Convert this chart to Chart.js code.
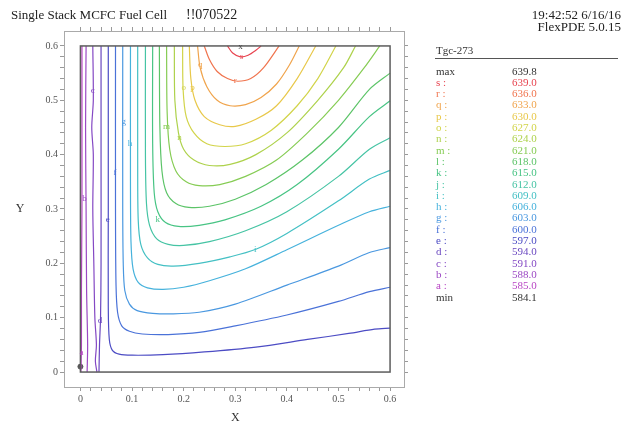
<!DOCTYPE html>
<html><head><meta charset="utf-8">
<script src="https://cdn.jsdelivr.net/npm/chart.js@4/dist/chart.umd.min.js"></script>
<style>html,body{margin:0;padding:0;background:#fff;}#wrap{width:637px;height:425px;}</style>
</head><body><div id="wrap"><canvas id="c" width="637" height="425"></canvas></div>
<script>
// ---------------- data ----------------
const titleText = 'Single Stack MCFC Fuel Cell';
const runId = '!!070522';
const stampText = '19:42:52 6/16/16';
const versionText = 'FlexPDE 5.0.15';
const varName = 'Tgc-273';
const fieldMax = 639.8;
const fieldMin = 584.1;
const maxLoc = [0.31, 0.598];
const minLoc = [0.0, 0.01];
const contourLetters = ['a','b','c','d','e','f','g','h','i','j','k','l','m','n','o','p','q','r','s'];
const contourValues = [585.0,588.0,591.0,594.0,597.0,600.0,603.0,606.0,609.0,612.0,615.0,618.0,621.0,624.0,627.0,630.0,633.0,636.0,639.0];
const tickLabels = ['0','0.1','0.2','0.3','0.4','0.5','0.6'];

const path_a = [[0.003,0.6],[0.003,0.45],[0.003,0.3],[0.002,0.15],[0.002,0.05],[0.001,0.0]];
const path_b = [[0.011,0.6],[0.01,0.45],[0.011,0.3],[0.012,0.15],[0.014,0.05],[0.013,0.0]];
const path_c = [[0.024,0.6],[0.025,0.5],[0.022,0.45],[0.025,0.4],[0.024,0.3],[0.026,0.2],[0.028,0.1],[0.031,0.05],[0.029,0.02],[0.032,0.0]];
const path_d = [[0.04,0.6],[0.04,0.4],[0.04,0.2],[0.039,0.1],[0.037,0.05],[0.036,0.0]];
const path_e = [[0.054,0.6],[0.054,0.3],[0.054,0.12],[0.056,0.06],[0.062,0.04],[0.075,0.033],[0.1,0.031],[0.16,0.032],[0.24,0.037],[0.34,0.046],[0.44,0.06],[0.52,0.071],[0.57,0.079],[0.6,0.081]];
const path_f = [[0.068,0.6],[0.068,0.3],[0.069,0.16],[0.072,0.11],[0.08,0.085],[0.095,0.075],[0.12,0.07],[0.17,0.069],[0.23,0.073],[0.3,0.085],[0.4,0.105],[0.5,0.13],[0.56,0.148],[0.6,0.156]];
const path_g = [[0.082,0.6],[0.082,0.3],[0.083,0.2],[0.086,0.15],[0.095,0.125],[0.11,0.113],[0.14,0.108],[0.18,0.107],[0.23,0.11],[0.3,0.125],[0.4,0.16],[0.5,0.195],[0.56,0.22],[0.6,0.229]];
const path_h = [[0.097,0.6],[0.097,0.35],[0.098,0.24],[0.102,0.19],[0.112,0.165],[0.13,0.155],[0.16,0.152],[0.2,0.156],[0.25,0.168],[0.32,0.19],[0.4,0.225],[0.5,0.27],[0.56,0.295],[0.6,0.305]];
const path_i = [[0.111,0.6],[0.111,0.38],[0.112,0.28],[0.117,0.235],[0.13,0.21],[0.15,0.198],[0.18,0.195],[0.23,0.2],[0.29,0.212],[0.34,0.226],[0.4,0.255],[0.5,0.315],[0.56,0.355],[0.6,0.371]];
const path_j = [[0.126,0.6],[0.126,0.4],[0.128,0.31],[0.134,0.27],[0.148,0.245],[0.17,0.235],[0.2,0.233],[0.25,0.24],[0.32,0.26],[0.4,0.295],[0.5,0.36],[0.56,0.41],[0.6,0.431]];
const path_k = [[0.14,0.6],[0.14,0.42],[0.143,0.33],[0.15,0.295],[0.165,0.275],[0.19,0.268],[0.23,0.27],[0.28,0.28],[0.35,0.305],[0.42,0.345],[0.5,0.41],[0.56,0.47],[0.6,0.499]];
const path_l = [[0.153,0.6],[0.154,0.45],[0.158,0.37],[0.167,0.33],[0.185,0.31],[0.21,0.303],[0.25,0.305],[0.3,0.318],[0.36,0.345],[0.43,0.39],[0.5,0.45],[0.56,0.52],[0.6,0.55]];
const path_m = [[0.167,0.6],[0.168,0.48],[0.173,0.41],[0.185,0.37],[0.205,0.35],[0.23,0.343],[0.27,0.345],[0.32,0.36],[0.38,0.39],[0.44,0.44],[0.5,0.5],[0.55,0.56],[0.58,0.6]];
const path_n = [[0.182,0.6],[0.183,0.5],[0.19,0.44],[0.2,0.41],[0.22,0.39],[0.25,0.38],[0.29,0.382],[0.34,0.4],[0.4,0.44],[0.46,0.5],[0.51,0.56],[0.533,0.6]];
const path_o = [[0.198,0.6],[0.199,0.52],[0.205,0.47],[0.22,0.44],[0.245,0.42],[0.28,0.415],[0.32,0.42],[0.37,0.445],[0.42,0.49],[0.46,0.54],[0.495,0.6]];
const path_p = [[0.211,0.6],[0.214,0.54],[0.222,0.5],[0.24,0.47],[0.27,0.455],[0.3,0.452],[0.34,0.465],[0.38,0.49],[0.42,0.54],[0.456,0.6]];
const path_q = [[0.227,0.6],[0.232,0.56],[0.245,0.525],[0.265,0.5],[0.29,0.49],[0.32,0.492],[0.35,0.505],[0.38,0.53],[0.405,0.565],[0.424,0.6]];
const path_r = [[0.24,0.6],[0.25,0.575],[0.265,0.553],[0.285,0.54],[0.305,0.535],[0.33,0.54],[0.355,0.56],[0.385,0.6]];
const path_s = [[0.285,0.6],[0.295,0.587],[0.31,0.58],[0.325,0.583],[0.34,0.592],[0.35,0.6]];
const contourPaths = [path_a,path_b,path_c,path_d,path_e,path_f,path_g,path_h,path_i,path_j,path_k,path_l,path_m,path_n,path_o,path_p,path_q,path_r,path_s];

// letters placed on the lines (data coordinates)
const lineLabels = [['s',0.312,0.58],['r',0.3,0.536],['q',0.232,0.565],['p',0.217,0.523],['o',0.2,0.523],
  ['n',0.192,0.431],['m',0.167,0.451],['g',0.084,0.461],['h',0.096,0.42],['f',0.067,0.367],['c',0.024,0.517],
  ['b',0.008,0.319],['e',0.053,0.281],['k',0.15,0.281],['i',0.339,0.226],['d',0.038,0.095],['a',0.002,0.035]];

// ---------------- styles ----------------
const levelColors = ['#b845c4','#9c48c4','#8448c4','#6a48c0','#4c4cc4','#4a72d8','#4a98e0','#46b2dc','#44c0c4','#46c4a4',
  '#48c484','#5cc468','#86cc54','#aed24c','#d2d44a','#e8c84a','#f0a44c','#f0744e','#e84450'];
const SERIF = '"Liberation Serif","DejaVu Serif",serif';

const minorTicks = [];
for (let i = 0; i <= 30; i++) minorTicks.push(+(i * 0.02).toFixed(2));

function setTicks(scale){ scale.ticks = minorTicks.map(v => ({value: v})); }
function tickLabel(v){
  const k = Math.round(v * 50);
  return (k % 5 === 0) ? tickLabels[k / 5] : '';
}

const datasets = contourPaths.map((p, i) => ({
  label: contourLetters[i],
  data: p.map(q => ({x: q[0], y: q[1]})),
  showLine: true, pointRadius: 0, borderColor: levelColors[i], borderWidth: 1.2,
  tension: 0.3, fill: false
}));
datasets.push({label:'min', data:[{x:minLoc[0], y:minLoc[1]}], showLine:false, pointRadius:2.5,
  backgroundColor:'#555', borderColor:'#555'});

const decor = {
  id: 'decor',
  afterDatasetsDraw(chart){
    const ctx = chart.ctx, xs = chart.scales.x, ys = chart.scales.y;
    ctx.save();
    const x0 = xs.getPixelForValue(0), x1 = xs.getPixelForValue(0.6);
    const y0 = ys.getPixelForValue(0), y1 = ys.getPixelForValue(0.6);
    ctx.strokeStyle = '#5c5c5c'; ctx.lineWidth = 1.5;
    ctx.strokeRect(x0, y1, x1 - x0, y0 - y1);
    ctx.font = '9px ' + SERIF; ctx.textAlign = 'center'; ctx.textBaseline = 'middle';
    lineLabels.forEach(([l, x, y]) => {
      ctx.fillStyle = levelColors[contourLetters.indexOf(l)];
      ctx.fillText(l, xs.getPixelForValue(x), ys.getPixelForValue(y));
    });
    ctx.fillStyle = '#444';
    ctx.fillText('x', xs.getPixelForValue(maxLoc[0]), ys.getPixelForValue(maxLoc[1]));
    ctx.font = '12px ' + SERIF; ctx.fillStyle = '#333';
    ctx.fillText('X', xs.getPixelForValue(0.3), 418);
    ctx.fillText('Y', 20, ys.getPixelForValue(0.3));
    ctx.restore();
  },
  afterDraw(chart){
    const ctx = chart.ctx;
    ctx.save();
    ctx.fillStyle = '#222'; ctx.textBaseline = 'alphabetic';
    ctx.font = '13px ' + SERIF; ctx.textAlign = 'left';
    ctx.fillText(titleText, 11, 19);
    ctx.font = '14px ' + SERIF;
    ctx.fillText(runId, 186, 19);
    ctx.font = '13px ' + SERIF;
    ctx.textAlign = 'right';
    ctx.fillText(stampText, 621, 19);
    ctx.fillText(versionText, 621, 31);
    // legend
    ctx.textAlign = 'left';
    ctx.font = '11px ' + SERIF;
    ctx.fillStyle = '#333';
    ctx.fillText(varName, 436, 54);
    ctx.strokeStyle = '#555'; ctx.lineWidth = 1;
    ctx.beginPath(); ctx.moveTo(435, 58.5); ctx.lineTo(618, 58.5); ctx.stroke();
    const top = 74.5, step = 11.3;
    ctx.fillStyle = '#333';
    ctx.fillText('max', 436, top);
    ctx.fillText(fieldMax.toFixed(1), 512, top);
    for (let r = 0; r < contourLetters.length; r++){
      const idx = contourLetters.length - 1 - r;
      const yy = top + step * (r + 1);
      ctx.fillStyle = levelColors[idx];
      ctx.fillText(contourLetters[idx] + ' :', 436, yy);
      ctx.fillText(contourValues[idx].toFixed(1), 512, yy);
    }
    ctx.fillStyle = '#333';
    const ym = top + step * (contourLetters.length + 1);
    ctx.fillText('min', 436, ym);
    ctx.fillText(fieldMin.toFixed(1), 512, ym);
    ctx.restore();
  }
};

const XMIN = -0.0318, XMAX = 0.627, YMIN = -0.0275, YMAX = 0.6275;
const axisCommon = {
  type: 'linear',
  afterBuildTicks: setTicks,
  grid: {drawOnChartArea: false, drawTicks: true, tickLength: 4, tickColor: '#999'},
  border: {display: true, color: '#aaa', width: 1}
};

new Chart(document.getElementById('c'), {
  type: 'scatter',
  data: {datasets},
  plugins: [decor],
  options: {
    responsive: false, animation: false, devicePixelRatio: 1,
    layout: {padding: 0},
    plugins: {legend: {display: false}, tooltip: {enabled: false}},
    scales: {
      x: Object.assign({}, axisCommon, {position: 'bottom', min: XMIN, max: XMAX,
        ticks: {autoSkip: false, maxRotation: 0, padding: 2, color: '#555', font: {family: SERIF, size: 10}, callback: tickLabel},
        afterFit: s => { s.height = 38; }}),
      y: Object.assign({}, axisCommon, {position: 'left', min: YMIN, max: YMAX,
        ticks: {autoSkip: false, padding: 2, color: '#555', font: {family: SERIF, size: 10}, callback: tickLabel},
        afterFit: s => { s.width = 64; }}),
      x2: Object.assign({}, axisCommon, {position: 'top', min: XMIN, max: XMAX,
        ticks: {display: false, autoSkip: false},
        afterFit: s => { s.height = 31; }}),
      y2: Object.assign({}, axisCommon, {position: 'right', min: YMIN, max: YMAX,
        ticks: {display: false, autoSkip: false},
        afterFit: s => { s.width = 233; }})
    }
  }
});
</script></body></html>
